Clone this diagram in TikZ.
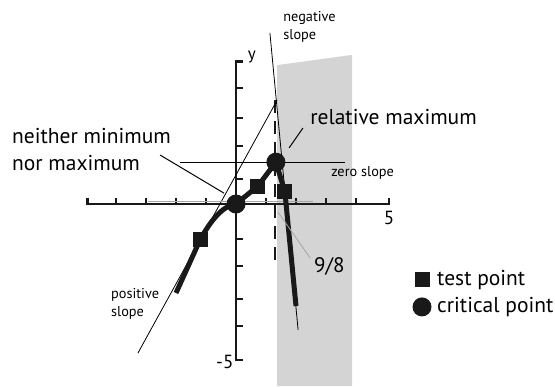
\documentclass[tikz,border=0pt]{standalone}
\usepackage{fontspec}
\setmainfont{PT Sans}
\usetikzlibrary{positioning}

\begin{document}
\begin{tikzpicture}[
  x=30pt, y=31pt,
  font=\fontsize{21.5}{27}\selectfont,
  axis/.style={line width=2.2pt, black!90},
  tick/.style={line width=1.8pt, black!90},
  curve/.style={line width=5pt, line join=round, black!90},
  tangent/.style={line width=0.8pt, black},
  leader/.style={line width=1pt, black},
  faint/.style={line width=0.8pt, black!35},
  testpt/.style={fill=black!90, minimum size=15pt, inner sep=0pt},
  critpt/.style={circle, fill=black!90, minimum size=19pt, inner sep=0pt},
  small/.style={font=\fontsize{14.3}{18}\selectfont, align=left, inner sep=0pt},
  numlab/.style={inner sep=0pt, font=\fontsize{19}{22}\selectfont},
  label/.style={align=left, inner sep=0pt}]

\useasboundingbox (-7.867,6.581) rectangle (10.633,-5.871);

%% ---- zona sombreada a la derecha de 9/8 ----
\fill[black!17] (1.37,4.48) -- (3.87,4.81) -- (3.87,-5.871) -- (1.37,-5.871) -- cycle;

%% ---- ejes ----
\draw[axis] (-4.95,0.18) -- (-4.95,0) -- (5.1,0) -- (5.1,0.18);
\draw[axis] (0.22,4.6) -- (0,4.6) -- (0,-5.03) -- (0.22,-5.03);
\foreach \t in {-4,-3,-2,-1,1,2,3,4}
  \draw[tick] (\t,0) -- (\t,0.18);
\foreach \t in {-3.94,-3.06,-2,-1.13,0.81,1.87,2.77,3.74}
  \draw[tick] (0,\t) -- (0.22,\t);
\node[numlab, font=\fontsize{17}{20}\selectfont] (ylab) at (0.53,4.74) {y};
\node[numlab] (xmax) at (5.1,-0.45) {5};
\node[numlab, anchor=east] (ymin) at (-0.08,-5.1) {-5};

%% ---- asintota vertical discontinua en x = 9/8 ----
\coordinate (dtop) at (1.3,3.35);
\coordinate (dbot) at (1.3,-1.97);
\draw[line width=2.6pt, black!90, dash pattern=on 13pt off 8pt] (dtop) -- (dbot);

%% ---- tangentes finas ----
\coordinate (neg1) at (1.13,5.52);
\coordinate (neg2) at (2.07,-4.06);
\coordinate (pos1) at (-3.27,-4.81);
\coordinate (pos2) at (1.37,3.35);
\coordinate (zer1) at (-1.87,1.35);
\coordinate (zer2) at (3.63,1.35);
\coordinate (hor1) at (-2.93,0.08);
\coordinate (hor2) at (2.57,0.08);
\draw[tangent] (neg1) -- (neg2);
\draw[tangent] (pos1) -- (pos2);
\draw[tangent] (zer1) -- (zer2);
\draw[faint] (hor1) -- (hor2);

%% ---- la curva ----
\coordinate (start) at (-2,-2.87);
\coordinate (p1) at (-1.2,-1.16);
\coordinate (p2) at (0,0);
\coordinate (p3) at (0.73,0.58);
\coordinate (p4) at (1.33,1.35);
\coordinate (p5) at (1.63,0.39);
\coordinate (stop) at (2,-3.29);
\draw[curve] (start) -- (p1) .. controls (-0.87,-0.58) and (-0.47,-0.06) .. (p2)
  -- (p3) -- (p4) -- (p5) -- (stop);
\node[testpt] (test1) at (p1) {};
\node[critpt] (crit1) at (p2) {};
\node[testpt] (test2) at (p3) {};
\node[critpt] (crit2) at (p4) {};
\node[testpt] (test3) at (p5) {};

%% ---- textos ----
\node[small, anchor=west] (negl) at (1.57,5.71) {negative\\slope};
\node[small, anchor=west] (posl) at (-4.17,-3.23) {positive\\slope};
\node[small, anchor=west] (zerl) at (3.17,1.0) {zero slope};
\node[label, anchor=west] (neither) at (-7.47,1.76) {neither minimum\\nor maximum};
\node[label, anchor=west] (relmax) at (2.47,2.81) {relative maximum};
\node[numlab, anchor=west, font=\fontsize{21}{22}\selectfont] (ninth) at (2.6,-2.0) {9/8};

% lineas guia de las etiquetas
\coordinate (nm1) at (-2.53,1.58);
\coordinate (nm2) at (-0.4,0.35);
\coordinate (rm1) at (2.23,2.45);
\coordinate (rm2) at (1.77,1.81);
\coordinate (nf1) at (2.47,-1.74);
\coordinate (nf2) at (1.4,-0.26);
\draw[leader] (nm1) -- (nm2);
\draw[leader] (rm1) -- (rm2);
\draw[faint] (nf1) -- (nf2);

%% ---- leyenda ----
\node[testpt] (keytest) at (6.23,-2.45) {};
\node[critpt] (keycrit) at (6.2,-3.32) {};
\node[label, anchor=west] (keytestl) at (6.7,-2.45) {test point};
\node[label, anchor=west] (keycritl) at (6.7,-3.32) {critical point};
\end{tikzpicture}
\end{document}
